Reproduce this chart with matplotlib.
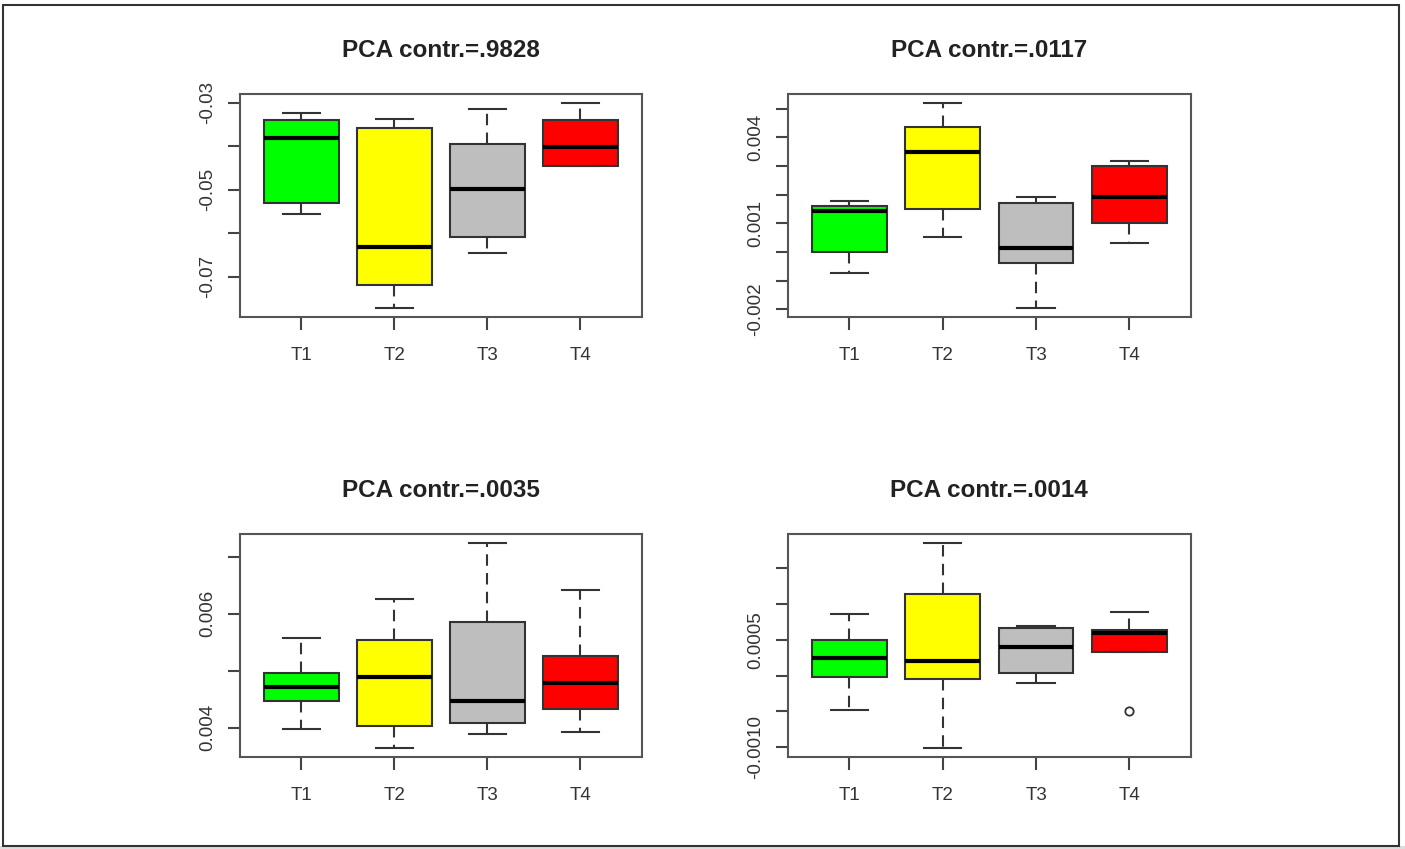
import matplotlib
matplotlib.use("Agg")
import matplotlib.pyplot as plt
from matplotlib.patches import Rectangle

plt.rcParams['font.family'] = ['Liberation Sans', 'DejaVu Sans']

groups = ['T1', 'T2', 'T3', 'T4']
fills = ['#00ff00', '#ffff00', '#bebebe', '#ff0000']
titles = ['PCA contr.=.9828', 'PCA contr.=.0117', 'PCA contr.=.0035', 'PCA contr.=.0014']

# five-number summaries per component (lower whisker, Q1, median, Q3, upper whisker)
pc1_low = [-0.0556, -0.0773, -0.0646, -0.0445]
pc1_q1 = [-0.0531, -0.0719, -0.0608, -0.0445]
pc1_med = [-0.0382, -0.0632, -0.0498, -0.0402]
pc1_q3 = [-0.0341, -0.0358, -0.0396, -0.0341]
pc1_high = [-0.0325, -0.0337, -0.0315, -0.0300]
pc1_out = [[], [], [], []]

pc2_low = [-0.00072, 0.00052, -0.00197, 0.00031]
pc2_q1 = [0.0000, 0.00150, -0.00040, 0.00102]
pc2_med = [0.00144, 0.00349, 0.00015, 0.00190]
pc2_q3 = [0.00162, 0.00435, 0.00170, 0.00301]
pc2_high = [0.00178, 0.00521, 0.00190, 0.00317]
pc2_out = [[], [], [], []]

pc3_low = [0.00398, 0.00364, 0.00389, 0.00393]
pc3_q1 = [0.00448, 0.00403, 0.00409, 0.00433]
pc3_med = [0.00471, 0.00489, 0.00448, 0.00479]
pc3_q3 = [0.00496, 0.00554, 0.00585, 0.00526]
pc3_high = [0.00558, 0.00626, 0.00725, 0.00642]
pc3_out = [[], [], [], []]

pc4_low = [-0.00048, -0.00102, -0.00010, 0.00033]
pc4_q1 = [-0.00002, -0.00005, 0.00004, 0.00033]
pc4_med = [0.00025, 0.00021, 0.00040, 0.00060]
pc4_q3 = [0.00049, 0.00114, 0.00067, 0.00064]
pc4_high = [0.00086, 0.00186, 0.00069, 0.00089]
pc4_out = [[], [], [], [-0.0005]]

# y ticks and which of them carry a label
pc1_ticks = [-0.07, -0.06, -0.05, -0.04, -0.03]
pc1_labels = ['-0.07', '', '-0.05', '', '-0.03']
pc2_ticks = [-0.002, -0.001, 0.0, 0.001, 0.002, 0.003, 0.004, 0.005]
pc2_labels = ['-0.002', '', '', '0.001', '', '', '0.004', '']
pc3_ticks = [0.004, 0.005, 0.006, 0.007]
pc3_labels = ['0.004', '', '0.006', '']
pc4_ticks = [-0.0010, -0.0005, 0.0, 0.0005, 0.0010, 0.0015]
pc4_labels = ['-0.0010', '', '', '0.0005', '', '']

panels = [
    (pc1_low, pc1_q1, pc1_med, pc1_q3, pc1_high, pc1_out, pc1_ticks, pc1_labels),
    (pc2_low, pc2_q1, pc2_med, pc2_q3, pc2_high, pc2_out, pc2_ticks, pc2_labels),
    (pc3_low, pc3_q1, pc3_med, pc3_q3, pc3_high, pc3_out, pc3_ticks, pc3_labels),
    (pc4_low, pc4_q1, pc4_med, pc4_q3, pc4_high, pc4_out, pc4_ticks, pc4_labels),
]

W, H = 1405, 849
fig = plt.figure(figsize=(W / 100, H / 100), dpi=100)
fig.patch.set_facecolor('white')

# axes boxes in pixel units: left, top, right, bottom
boxes_px = [(240, 94.3, 641.7, 316.7), (787.7, 94.3, 1191, 316.7),
            (240, 534.3, 641.7, 756.7), (787.7, 534.3, 1191, 756.7)]

edge = '#333333'
for (l, t, r, b), title, (lo, q1, med, q3, hi, out, ticks, labels) in zip(boxes_px, titles, panels):
    ax = fig.add_axes([l / W, 1 - b / H, (r - l) / W, (b - t) / H])
    stats = []
    for i in range(4):
        stats.append(dict(whislo=lo[i], q1=q1[i], med=med[i], q3=q3[i],
                          whishi=hi[i], fliers=out[i], label=groups[i]))
    art = ax.bxp(stats, positions=[1, 2, 3, 4], widths=0.8, patch_artist=True,
                 boxprops=dict(edgecolor=edge, linewidth=1.5),
                 medianprops=dict(color='black', linewidth=3.0, solid_capstyle='butt'),
                 whiskerprops=dict(color=edge, linewidth=1.5, linestyle=(0, (5.5, 3.5))),
                 capprops=dict(color=edge, linewidth=1.5),
                 flierprops=dict(marker='o', markerfacecolor='none', markeredgecolor=edge,
                                 markersize=6, markeredgewidth=1.3))
    for patch, c in zip(art['boxes'], fills):
        patch.set_facecolor(c)

    vals = lo + hi + sum(out, [])
    span = max(vals) - min(vals)
    ax.set_ylim(min(vals) - 0.04 * span, max(vals) + 0.04 * span)
    ax.set_xlim(0.34, 4.66)

    ax.set_xticks([1, 2, 3, 4])
    ax.set_xticklabels(groups)
    ax.set_yticks(ticks)
    ax.set_yticklabels(labels, rotation=90, va='center')
    ax.tick_params(axis='both', direction='out', color='#444444', width=1.5,
                   labelcolor='#333333', labelsize=13.5)
    ax.tick_params(axis='y', length=9, pad=8)
    ax.tick_params(axis='x', length=9, pad=13)
    for s in ax.spines.values():
        s.set_color('#555555')
        s.set_linewidth(1.5)
    ax.set_title(title, fontsize=17.5, fontweight='bold', color='#222222', pad=27)

# outer frame and the grey strip under it
fig.add_artist(Rectangle((0, 0), 1, 3.3 / H, transform=fig.transFigure,
                         facecolor='#dddddd', edgecolor='none'))
fig.add_artist(Rectangle((3 / W, 3.3 / H), 1395.7 / W, 840.7 / H, transform=fig.transFigure,
                         facecolor='none', edgecolor='#333333', linewidth=1.5))

fig.savefig('out.png', dpi=100)
